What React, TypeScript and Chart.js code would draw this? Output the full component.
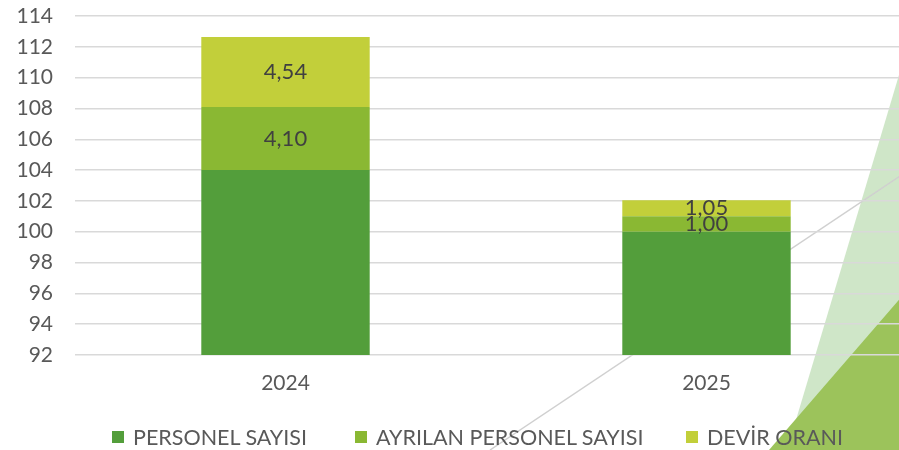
import React, { useEffect, useRef } from "react";
import { Chart, registerables } from "chart.js";

Chart.register(...registerables);

const categories = ["2024", "2025"];
const personelSayisi = [104, 100];
const ayrilanPersonel = [4.1, 1.0];
const devirOrani = [4.54, 1.05];
const seriesNames = ["PERSONEL SAYISI", "AYRILAN PERSONEL SAYISI", "DEVİR ORANI"];
const seriesColors = ["#539E3B", "#8AB833", "#C2CF3A"];
const yMin = 92;
const yMax = 114;
const yStep = 2;

const FONT = "Lato, 'Liberation Sans', sans-serif";
const legendLefts = [112, 355, 686];

const fmt = (v: number, dsIndex: number) =>
  dsIndex === 0 ? String(v) : v.toFixed(2).replace(".", ",");

const backgroundDecor = {
  id: "backgroundDecor",
  beforeDraw(chart: any) {
    const ctx = chart.ctx;
    ctx.save();
    ctx.fillStyle = "rgba(160, 205, 145, 0.5)";
    ctx.beginPath();
    ctx.moveTo(899, 75);
    ctx.lineTo(787, 450);
    ctx.lineTo(930, 450);
    ctx.lineTo(930, 75);
    ctx.closePath();
    ctx.fill();
    ctx.fillStyle = "#9CC35B";
    ctx.beginPath();
    ctx.moveTo(769, 450);
    ctx.lineTo(930, 264);
    ctx.lineTo(930, 450);
    ctx.closePath();
    ctx.fill();
    ctx.strokeStyle = "#D0D0D0";
    ctx.lineWidth = 1.5;
    ctx.beginPath();
    ctx.moveTo(490, 450);
    ctx.lineTo(930, 156);
    ctx.stroke();
    ctx.restore();
  },
};

const valueLabels = {
  id: "valueLabels",
  afterDatasetsDraw(chart: any) {
    const ctx = chart.ctx;
    ctx.save();
    ctx.font = `22px ${FONT}`;
    ctx.fillStyle = "#404040";
    ctx.textAlign = "center";
    ctx.textBaseline = "middle";
    chart.data.datasets.forEach((ds: any, di: number) => {
      const meta = chart.getDatasetMeta(di);
      meta.data.forEach((el: any, i: number) => {
        const y = (el.y + el.base) / 2;
        ctx.fillText(fmt(ds.data[i], di), el.x, y);
      });
    });
    ctx.restore();
  },
};

export default function App() {
  const ref = useRef<HTMLCanvasElement | null>(null);
  useEffect(() => {
    if (!ref.current) return;
    const chart = new Chart(ref.current, {
      type: "bar",
      data: {
        labels: categories,
        datasets: [
          { label: seriesNames[0], data: personelSayisi, backgroundColor: seriesColors[0] },
          { label: seriesNames[1], data: ayrilanPersonel, backgroundColor: seriesColors[1] },
          { label: seriesNames[2], data: devirOrani, backgroundColor: seriesColors[2] },
        ],
      },
      options: {
        animation: false,
        responsive: true,
        maintainAspectRatio: false,
        layout: { padding: { left: 17, right: 8, top: 16, bottom: 55 } },
        datasets: { bar: { barPercentage: 0.4, categoryPercentage: 1 } } as any,
        plugins: {
          legend: { display: false },
          tooltip: { enabled: false },
        },
        scales: {
          x: {
            stacked: true,
            grid: { display: false, drawTicks: false },
            border: { display: false },
            ticks: { color: "#595959", font: { family: FONT, size: 21 }, padding: 16 },
            afterFit(scale: any) {
              scale.height = 40;
              scale.paddingLeft = 0;
              scale.paddingRight = 0;
            },
          },
          y: {
            stacked: true,
            min: yMin,
            max: yMax,
            grid: { color: "#D9D9D9", lineWidth: 1.5, drawTicks: false },
            border: { display: false },
            ticks: {
              stepSize: yStep,
              color: "#595959",
              font: { family: FONT, size: 21 },
              padding: 22,
            },
            afterFit(scale: any) {
              scale.width = 58;
              scale.paddingTop = 0;
              scale.paddingBottom = 0;
            },
          },
        },
      },
      plugins: [backgroundDecor, valueLabels],
    });
    return () => chart.destroy();
  }, []);

  return (
    <div style={{ position: "absolute", left: 0, top: 0, width: 899, height: 450, overflow: "hidden", background: "#fff" }}>
      <div style={{ position: "absolute", left: 0, top: 0, width: 925, height: 450 }}>
        <canvas ref={ref} />
      </div>
      {seriesNames.map((n, i) => (
        <div
          key={n}
          style={{
            position: "absolute",
            left: legendLefts[i],
            top: 424,
            display: "flex",
            alignItems: "center",
            fontFamily: FONT,
            fontSize: 21.5,
            color: "#595959",
            whiteSpace: "nowrap",
            lineHeight: "26px",
          }}
        >
          <span style={{ display: "inline-block", width: 12, height: 12, background: seriesColors[i], marginRight: 9 }} />
          <span>{n}</span>
        </div>
      ))}
    </div>
  );
}
